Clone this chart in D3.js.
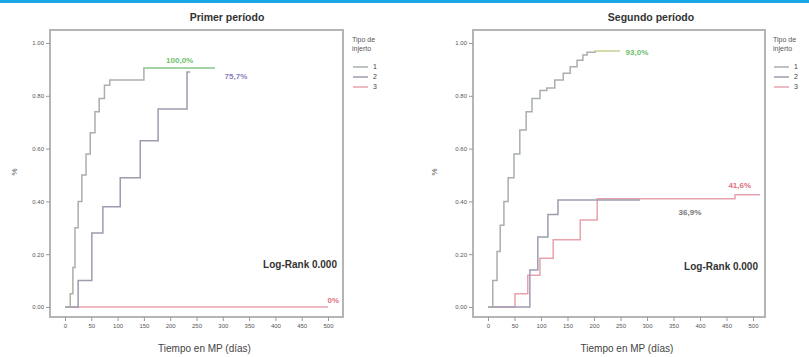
<!DOCTYPE html>
<html><head><meta charset="utf-8">
<script src="https://cdn.jsdelivr.net/npm/d3@7"></script>
<style>body{margin:0;background:#fff;}svg{display:block;font-family:"Liberation Sans",Arial,sans-serif;}</style>
</head><body>
<script>
// ---- data ----
const xTicks = [0,50,100,150,200,250,300,350,400,450,500];
const yTicks = [0,0.2,0.4,0.6,0.8,1.0];
const groups = ["1","2","3"];
const legendTitle = ["Tipo de","injerto"];
const titles = ["Primer período","Segundo período"];
const xLabel = "Tiempo en MP (días)";
const yLabel = "%";
const testText = "Log-Rank 0.000";

// Primer período
const p1_g1_days = [0,10,15,19,25,32,40,48,57,65,75,85,150,285];
const p1_g1_vals = [0,0.05,0.15,0.30,0.40,0.50,0.58,0.66,0.74,0.79,0.84,0.86,0.905,0.905];
const p1_g2_days = [0,25,51,72,105,143,177,232,238];
const p1_g2_vals = [0,0.10,0.28,0.38,0.49,0.63,0.75,0.89,0.89];
const p1_g3_days = [0,500];
const p1_g3_vals = [0,0];
const p1_labels = ["100,0%","75,7%","0%"];
const p1_labelPos = [[218,0.935],[325,0.875],[510,0.025]];

// Segundo período
const p2_g1_days = [0,9,17,23,30,38,49,60,72,83,98,111,126,142,155,168,179,187,202,249];
const p2_g1_vals = [0,0.10,0.21,0.31,0.40,0.49,0.58,0.67,0.74,0.79,0.82,0.83,0.86,0.885,0.91,0.935,0.955,0.965,0.97,0.97];
const p2_g2_days = [0,79,94,113,132,287];
const p2_g2_vals = [0,0.14,0.265,0.35,0.405,0.405];
const p2_g3_days = [0,51,75,98,123,174,206,466,513];
const p2_g3_vals = [0,0.05,0.12,0.185,0.255,0.33,0.41,0.425,0.425];
const p2_labels = ["93,0%","36,9%","41,6%"];
const p2_labelPos = [[281,0.965],[381,0.36],[475,0.46]];

const lineColors = ["#a8b0a8","#9c9cae","#e7a3ad"];
const labelColors = ["#6cbf6c","#8a80c0","#e0707e"];
const tailColors = ["#9fd89f","#d9e6a8"];

// ---- drawing ----
const W = 809, H = 357;
const svg = d3.select("body").append("svg").attr("width",W).attr("height",H);
svg.append("rect").attr("x",0).attr("y",0).attr("width",W).attr("height",3).attr("fill","#1aa7e6");

const panels = [
  {x0:50,x1:343,x00:65,x500:328,title:titles[0],titleX:227,leg:352,tail:tailColors[0],
   series:[[p1_g1_days,p1_g1_vals],[p1_g2_days,p1_g2_vals],[p1_g3_days,p1_g3_vals]],
   labels:p1_labels,labelPos:p1_labelPos,labelCol:[labelColors[0],labelColors[1],labelColors[2]],testX:337,testY:264,ylabX:17},
  {x0:473,x1:765,x00:488,x500:753,title:titles[1],titleX:651,leg:773,tail:tailColors[1],
   series:[[p2_g1_days,p2_g1_vals],[p2_g2_days,p2_g2_vals],[p2_g3_days,p2_g3_vals]],
   labels:p2_labels,labelPos:p2_labelPos,labelCol:[labelColors[0],"#777",labelColors[2]],testX:758,testY:266,ylabX:437}
];

const yTop = 30, yBot = 317;
const y = d3.scaleLinear().domain([0,1]).range([307,43]);

panels.forEach(p=>{
  const slope = (p.x500-p.x00)/500;
  const x = d3.scaleLinear().domain([(p.x0-p.x00)/slope,(p.x1-p.x00)/slope]).range([p.x0,p.x1]);
  const g = svg.append("g");
  // frame
  g.append("rect").attr("x",p.x0).attr("y",yTop).attr("width",p.x1-p.x0).attr("height",yBot-yTop)
   .attr("fill","none").attr("stroke","#b5b5b5").attr("stroke-width",2);
  // axes
  const ya = d3.axisLeft(y).tickValues(yTicks).tickFormat(d3.format(".2f")).tickSize(4).tickPadding(2);
  g.append("g").attr("transform",`translate(${p.x0},0)`).call(ya)
   .call(s=>{s.select(".domain").remove();s.selectAll("line").attr("stroke","#999");
             s.selectAll("text").attr("font-size",6).attr("fill","#555");});
  const xa = d3.axisBottom(x).tickValues(xTicks).tickSize(4).tickPadding(3);
  g.append("g").attr("transform",`translate(0,${yBot})`).call(xa)
   .call(s=>{s.select(".domain").remove();s.selectAll("line").attr("stroke","#999");
             s.selectAll("text").attr("font-size",6).attr("fill","#555");});
  // titles
  g.append("text").attr("x",p.titleX).attr("y",21).attr("text-anchor","middle")
   .attr("font-size",10.5).attr("font-weight","bold").attr("fill","#333").text(p.title);
  g.append("text").attr("x",(p.x0+p.x1)/2+8).attr("y",352).attr("text-anchor","middle")
   .attr("font-size",10).attr("fill","#444").text(xLabel);
  g.append("text").attr("transform",`translate(${p.ylabX},${172}) rotate(-90)`).attr("text-anchor","middle")
   .attr("font-size",8).attr("fill","#555").text(yLabel);
  // curves
  const line = d3.line().x(d=>x(d[0])).y(d=>y(d[1])).curve(d3.curveStepAfter);
  [2,1,0].forEach(i=>{
    const [ds,vs] = p.series[i];
    const pts = ds.map((d,k)=>[d,vs[k]]);
    g.append("path").attr("d",line(pts)).attr("fill","none")
     .attr("stroke",lineColors[i]).attr("stroke-width",1.5);
    if(i===0){
      const n = pts.length;
      g.append("path").attr("d",line(pts.slice(n-2))).attr("fill","none")
       .attr("stroke",p.tail).attr("stroke-width",1.5);
    }
  });
  // labels
  p.labels.forEach((t,i)=>{
    g.append("text").attr("x",x(p.labelPos[i][0])).attr("y",y(p.labelPos[i][1])).attr("text-anchor","middle")
     .attr("dy","0.35em").attr("font-size",8).attr("font-weight","bold").attr("fill",p.labelCol[i]).text(t);
  });
  g.append("text").attr("x",p.testX).attr("y",p.testY).attr("text-anchor","end").attr("dy","0.35em")
   .attr("font-size",10).attr("font-weight","bold").attr("fill","#333").text(testText);
  // legend
  const lg = g.append("g").attr("transform",`translate(${p.leg},0)`);
  legendTitle.forEach((t,i)=>lg.append("text").attr("x",0).attr("y",42+i*9).attr("font-size",7).attr("fill","#555").text(t));
  groups.forEach((t,i)=>{
    lg.append("line").attr("x1",1).attr("x2",16).attr("y1",67+i*10).attr("y2",67+i*10)
      .attr("stroke",lineColors[i]).attr("stroke-width",1.5);
    lg.append("text").attr("x",21).attr("y",67+i*10).attr("dy","0.35em").attr("font-size",7).attr("fill","#444").text(t);
  });
});
</script>
</body></html>
